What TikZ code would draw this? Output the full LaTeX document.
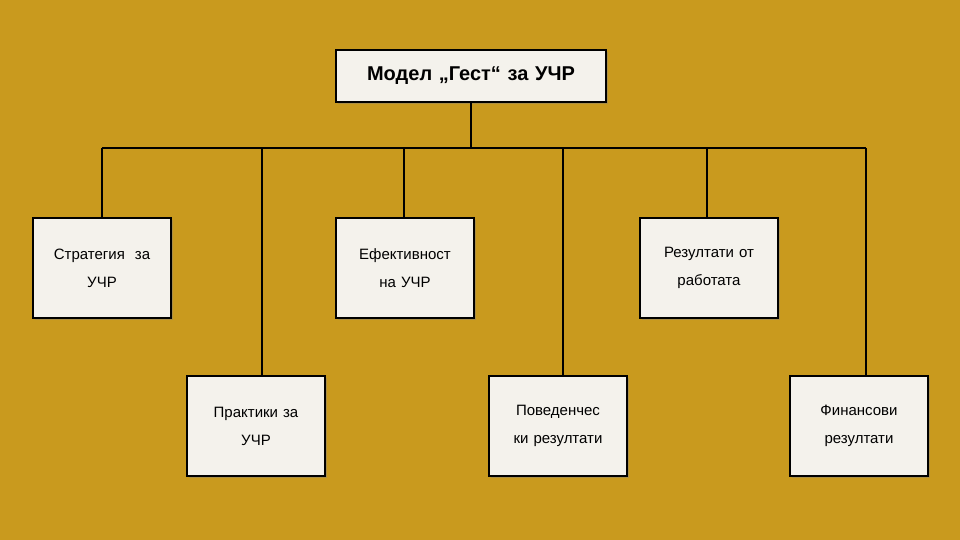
\documentclass[tikz,border=0pt]{standalone}
\usepackage{fontspec}
\setmainfont{Liberation Sans}
\usetikzlibrary{shadows}
\definecolor{bgcol}{HTML}{C99A1E}
\definecolor{boxcol}{HTML}{F4F2EC}
\tikzset{
	box/.style={draw=black, line width=2pt, fill=boxcol, minimum width=138pt, minimum height=100pt,
		align=center, text width=128pt, font=\fontsize{15}{28}\selectfont,
		drop shadow={shadow xshift=2pt, shadow yshift=-2pt, opacity=0.4}},
	head/.style={box, minimum width=270pt, minimum height=52pt, text width=260pt,
		font=\fontsize{20}{24}\selectfont\bfseries},
	link/.style={line width=1.5pt}
}
\begin{document}
\begin{tikzpicture}[x=1pt,y=-1pt]
		% Background
		\fill[bgcol] (0,0) rectangle (960,540);
		\useasboundingbox (0,0) rectangle (960,540);
		
		% Boxes
		\node[head] (model) at (471,76) {Модел „Гест“ за УЧР};
		\node[box] (strat) at (102,268) {Стратегия \ за\\УЧР};
		\node[box] (eff) at (405,268) {Ефективност\\на УЧР};
		\node[box] (work) at (709,268) {Резултати от\\работата};
		\node[box] (prac) at (256,426) {Практики за\\УЧР};
		\node[box] (behav) at (558,426) {Поведенчес\\ки резултати};
		\node[box] (fin) at (859,426) {Финансови\\резултати};
		
		% Connectors
		\coordinate (bus) at (471,148);
		\draw[link] (model.south) -- (bus);
		\draw[link] (102,148) -- (866,148);
		\draw[link] (102,148) -- (strat.north);
		\draw[link] (404,148) -- (eff.north -| 404,0);
		\draw[link] (707,148) -- (work.north -| 707,0);
		\draw[link] (262,148) -- (prac.north -| 262,0);
		\draw[link] (563,148) -- (behav.north -| 563,0);
		\draw[link] (866,148) -- (fin.north -| 866,0);
	\end{tikzpicture}
\end{document}
